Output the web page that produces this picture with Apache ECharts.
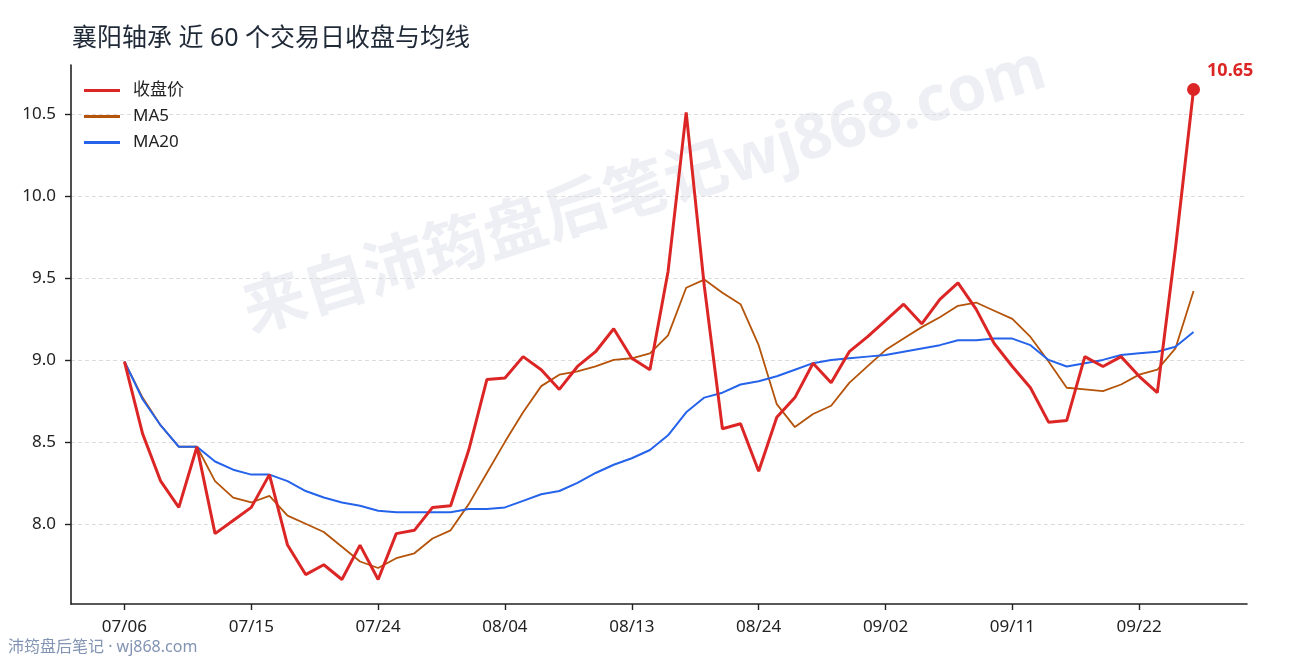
<!DOCTYPE html>
<html>
<head>
    <meta charset="utf-8">
    <title>襄阳轴承 近 60 个交易日收盘与均线</title>
    <script src="https://cdn.jsdelivr.net/npm/echarts@6/dist/echarts.min.js"></script>
    <style>
        html, body { margin: 0; padding: 0; background: #fff; }
        #main { width: 1290px; height: 660px; }
    </style>
</head>
<body>
<div id="main"></div>
<script>
    // 交易日（2020 年 7-9 月）
    var dates = [
        '07/06','07/07','07/08','07/09','07/10','07/13','07/14','07/15','07/16','07/17',
        '07/20','07/21','07/22','07/23','07/24','07/27','07/28','07/29','07/30','07/31',
        '08/03','08/04','08/05','08/06','08/07','08/10','08/11','08/12','08/13','08/14',
        '08/17','08/18','08/19','08/20','08/21','08/24','08/25','08/26','08/27','08/28',
        '08/31','09/01','09/02','09/03','09/04','09/07','09/08','09/09','09/10','09/11',
        '09/14','09/15','09/16','09/17','09/18','09/21','09/22','09/23','09/24','09/25'
    ];
    // 收盘价
    var closes = [
        8.99, 8.55, 8.26, 8.10, 8.47, 7.94, 8.02, 8.10, 8.30, 7.87,
        7.69, 7.75, 7.66, 7.87, 7.66, 7.94, 7.96, 8.10, 8.11, 8.45,
        8.88, 8.89, 9.02, 8.94, 8.82, 8.96, 9.05, 9.19, 9.01, 8.94,
        9.54, 10.51, 9.45, 8.58, 8.61, 8.32, 8.65, 8.77, 8.98, 8.86,
        9.05, 9.14, 9.24, 9.34, 9.22, 9.37, 9.47, 9.31, 9.10, 8.96,
        8.83, 8.62, 8.63, 9.02, 8.96, 9.02, 8.90, 8.80, 9.68, 10.65
    ];
    var ma5 = [
        8.99, 8.77, 8.60, 8.47, 8.47, 8.26, 8.16, 8.13, 8.17, 8.05,
        8.00, 7.95, 7.86, 7.77, 7.73, 7.79, 7.82, 7.91, 7.96, 8.12,
        8.31, 8.50, 8.68, 8.84, 8.91, 8.93, 8.96, 9.00, 9.01, 9.04,
        9.15, 9.44, 9.49, 9.41, 9.34, 9.09, 8.73, 8.59, 8.67, 8.72,
        8.86, 8.96, 9.06, 9.13, 9.20, 9.26, 9.33, 9.35, 9.30, 9.25,
        9.14, 8.99, 8.83, 8.82, 8.81, 8.85, 8.91, 8.94, 9.07, 9.42
    ];
    var ma20 = [
        8.99, 8.76, 8.60, 8.47, 8.47, 8.38, 8.33, 8.30, 8.30, 8.26,
        8.20, 8.16, 8.13, 8.11, 8.08, 8.07, 8.07, 8.07, 8.07, 8.09,
        8.09, 8.10, 8.14, 8.18, 8.20, 8.25, 8.31, 8.36, 8.40, 8.45,
        8.54, 8.68, 8.77, 8.80, 8.85, 8.87, 8.90, 8.94, 8.98, 9.00,
        9.01, 9.02, 9.03, 9.05, 9.07, 9.09, 9.12, 9.12, 9.13, 9.13,
        9.09, 9.00, 8.96, 8.98, 9.00, 9.03, 9.04, 9.05, 9.08, 9.17
    ];
    var xTicks = [0, 7, 14, 21, 28, 35, 42, 49, 56];
    var yTicks = [8.0, 8.5, 9.0, 9.5, 10.0, 10.5];

    var FONT = '"Noto Sans", "Noto Sans CJK SC", sans-serif';

    function pairs(arr) {
        return arr.map(function (v, i) { return [i, v]; });
    }
    var last = closes.length - 1;

    var myChart = echarts.init(document.getElementById('main'));
    var option = {
        animation: false,
        backgroundColor: '#fff',
        textStyle: { fontFamily: FONT },
        title: {
            text: '襄阳轴承 近 60 个交易日收盘与均线',
            left: 67,
            top: 21,
            textStyle: { fontSize: 25, fontWeight: 'normal', color: '#1f2937', fontFamily: FONT }
        },
        graphic: [{
            type: 'text',
            x: 645,
            y: 192,
            rotation: 0.3,
            z: -10,
            silent: true,
            style: {
                text: '来自沛筠盘后笔记wj868.com',
                fontSize: 63,
                fontWeight: 'bold',
                fontFamily: FONT,
                fill: 'rgba(150,160,190,0.17)',
                align: 'center',
                verticalAlign: 'middle'
            }
        }, {
            type: 'text',
            left: 8,
            top: 639,
            silent: true,
            style: {
                text: '沛筠盘后笔记 · wj868.com',
                fontSize: 16,
                fontFamily: FONT,
                fill: '#8294b2'
            }
        }],
        legend: {
            orient: 'vertical',
            left: 79,
            top: 77,
            itemWidth: 36,
            itemHeight: 3,
            itemGap: 9,
            icon: 'rect',
            textStyle: { fontSize: 17, color: '#222', fontFamily: FONT, padding: [0, 0, 0, 8] },
            data: ['收盘价', 'MA5', 'MA20']
        },
        grid: { left: 71, right: 43, top: 65, bottom: 56, containLabel: false },
        xAxis: {
            type: 'value',
            min: -2.95,
            max: 61.95,
            axisLine: { show: true, onZero: false, lineStyle: { color: '#222', width: 1.6 } },
            axisTick: { show: true, customValues: xTicks, length: 6, lineStyle: { color: '#222', width: 1.4 } },
            axisLabel: {
                customValues: xTicks,
                margin: 15,
                fontSize: 17,
                color: '#222',
                fontFamily: FONT,
                formatter: function (v) { return dates[Math.round(v)]; }
            },
            splitLine: { show: false }
        },
        yAxis: {
            type: 'value',
            min: 7.5105,
            max: 10.7995,
            axisLine: { show: true, onZero: false, lineStyle: { color: '#222', width: 1.6 } },
            axisTick: { show: true, customValues: yTicks, length: 6, lineStyle: { color: '#222', width: 1.4 } },
            axisLabel: {
                customValues: yTicks,
                margin: 15,
                fontSize: 17,
                color: '#222',
                fontFamily: FONT,
                formatter: function (v) { return v.toFixed(1); }
            },
            splitLine: { show: true, lineStyle: { color: '#dcdcdc', type: [4, 3], width: 1 } }
        },
        series: [{
            name: '收盘价',
            type: 'line',
            data: pairs(closes),
            showSymbol: false,
            symbol: 'none',
            z: 5,
            color: '#dc2626',
            lineStyle: { color: '#dc2626', width: 3 }
        }, {
            name: 'MA5',
            type: 'line',
            data: pairs(ma5),
            showSymbol: false,
            symbol: 'none',
            z: 3,
            color: '#b45309',
            lineStyle: { color: '#b45309', width: 1.8 }
        }, {
            name: 'MA20',
            type: 'line',
            data: pairs(ma20),
            showSymbol: false,
            symbol: 'none',
            z: 4,
            color: '#2563eb',
            lineStyle: { color: '#2563eb', width: 2 }
        }, {
            name: 'last',
            type: 'scatter',
            data: [[last, closes[last]]],
            symbolSize: 13,
            z: 6,
            itemStyle: { color: '#dc2626', opacity: 1 },
            label: {
                show: true,
                position: 'right',
                offset: [2, -19],
                fontSize: 18,
                fontWeight: 'bold',
                color: '#dc2626',
                opacity: 1,
                fontFamily: FONT,
                formatter: function (p) { return p.value[1].toFixed(2); }
            }
        }]
    };
    myChart.setOption(option);
</script>
</body>
</html>
